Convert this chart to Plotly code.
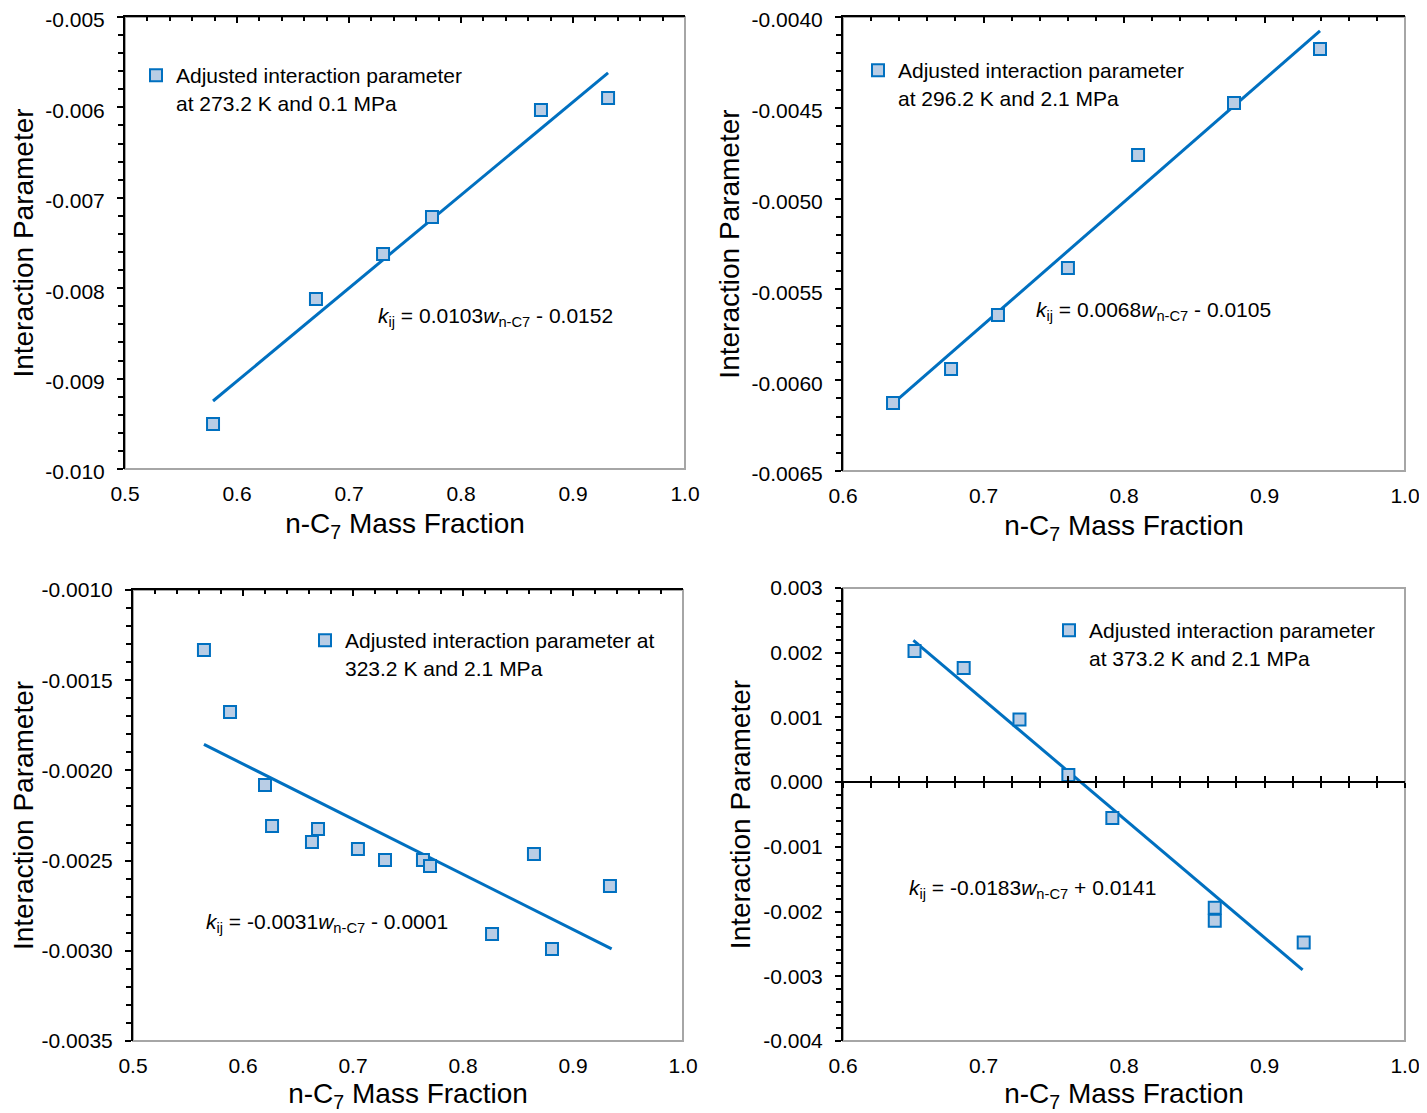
import plotly.graph_objects as go

W, H = 1419, 1105   # page has an 8px body margin; figure fills the rest of the 1427x1113 window
OFF = 8

# ---------------- data ----------------
# Panel 1: 273.2 K, 0.1 MPa
p1_x = [0.5786, 0.6705, 0.7304, 0.7741, 0.8714, 0.9313]
p1_y = [-0.009502, -0.008119, -0.007622, -0.007212, -0.006029, -0.005896]
p1_fit_x = [0.5786, 0.9313]
p1_fit_y = [-0.009248, -0.005619]

# Panel 2: 296.2 K, 2.1 MPa
p2_x = [0.6356, 0.6769, 0.7103, 0.7601, 0.8100, 0.8783, 0.9395]
p2_y = [-0.006126, -0.005938, -0.005641, -0.005382, -0.004760, -0.004474, -0.004176]
p2_fit_x = [0.632, 0.9395]
p2_fit_y = [-0.006153, -0.004077]

# Panel 3: 323.2 K, 2.1 MPa
p3_x = [0.5645, 0.5882, 0.6200, 0.6264, 0.6627, 0.6682, 0.7045, 0.7291,
        0.7636, 0.7700, 0.8264, 0.8645, 0.8809, 0.9336]
p3_y = [-0.001333, -0.001676, -0.002081, -0.002308, -0.002397, -0.002325,
        -0.002436, -0.002497, -0.002497, -0.002530, -0.002907, -0.002463,
        -0.002990, -0.002641]
p3_fit_x = [0.5645, 0.9351]
p3_fit_y = [-0.001856, -0.002989]

# Panel 4: 373.2 K, 2.1 MPa
p4_x = [0.6509, 0.6859, 0.7256, 0.7604, 0.7917, 0.8646, 0.8646, 0.9279]
p4_y = [0.002025, 0.001762, 0.000968, 0.000112, -0.000554, -0.001942, -0.002143, -0.002478]
p4_fit_x = [0.6501, 0.9271]
p4_fit_y = [0.00219, -0.0029]

legend_texts = [
    "Adjusted interaction parameter<br>at 273.2 K and 0.1 MPa",
    "Adjusted interaction parameter<br>at 296.2 K and 2.1 MPa",
    "Adjusted interaction parameter at<br>323.2 K and 2.1 MPa",
    "Adjusted interaction parameter<br>at 373.2 K and 2.1 MPa",
]
equations = [
    "<i>k</i><sub>ij</sub> = 0.0103<i>w</i><sub>n-C7</sub> - 0.0152",
    "<i>k</i><sub>ij</sub> = 0.0068<i>w</i><sub>n-C7</sub> - 0.0105",
    "<i>k</i><sub>ij</sub> = -0.0031<i>w</i><sub>n-C7</sub> - 0.0001",
    "<i>k</i><sub>ij</sub> = -0.0183<i>w</i><sub>n-C7</sub> + 0.0141",
]
eq_pos = [(0.7241, -0.008319), (0.7359, -0.005619), (0.5645, -0.002846), (0.6456, -0.001651)]

x_ticks_a = [0.5, 0.6, 0.7, 0.8, 0.9, 1.0]
x_ticks_b = [0.6, 0.7, 0.8, 0.9, 1.0]
x_labels_a = ["0.5", "0.6", "0.7", "0.8", "0.9", "1.0"]
x_labels_b = ["0.6", "0.7", "0.8", "0.9", "1.0"]

y1_ticks = [-0.005, -0.006, -0.007, -0.008, -0.009, -0.010]
y1_labels = ["-0.005", "-0.006", "-0.007", "-0.008", "-0.009", "-0.010"]
y2_ticks = [-0.0040, -0.0045, -0.0050, -0.0055, -0.0060, -0.0065]
y2_labels = ["-0.0040", "-0.0045", "-0.0050", "-0.0055", "-0.0060", "-0.0065"]
y3_ticks = [-0.0010, -0.0015, -0.0020, -0.0025, -0.0030, -0.0035]
y3_labels = ["-0.0010", "-0.0015", "-0.0020", "-0.0025", "-0.0030", "-0.0035"]
y4_ticks = [0.003, 0.002, 0.001, 0.000, -0.001, -0.002, -0.003, -0.004]
y4_labels = ["0.003", "0.002", "0.001", "0.000", "-0.001", "-0.002", "-0.003", "-0.004"]

x_title = "n-C<sub>7</sub> Mass Fraction"
y_title = "Interaction Parameter"

# ---------------- styling ----------------
FONT = "Liberation Sans, Arial, sans-serif"
BLUE = "#0070C0"
FILL = "#B9CDE5"
GRAY = "#A6A6A6"


def fx(px):
    return (px - OFF) / W


def fy(py):
    return 1 - (py - OFF) / H


panels = [
    dict(xs=p1_x, ys=p1_y, fx_=p1_fit_x, fy_=p1_fit_y, xr=[0.5, 1.0], yr=[-0.010, -0.005],
         xt=x_ticks_a, xl=x_labels_a, yt=y1_ticks, yl=y1_labels, ymin=0.0002,
         dom_x=[fx(125), fx(685)], dom_y=[fy(469), fy(17)], leg=(136, 55), shift=3),
    dict(xs=p2_x, ys=p2_y, fx_=p2_fit_x, fy_=p2_fit_y, xr=[0.6, 1.0], yr=[-0.0065, -0.0040],
         xt=x_ticks_b, xl=x_labels_b, yt=y2_ticks, yl=y2_labels, ymin=0.0001,
         dom_x=[fx(843), fx(1405)], dom_y=[fy(471), fy(17)], leg=(858, 50), shift=3),
    dict(xs=p3_x, ys=p3_y, fx_=p3_fit_x, fy_=p3_fit_y, xr=[0.5, 1.0], yr=[-0.0035, -0.0010],
         xt=x_ticks_a, xl=x_labels_a, yt=y3_ticks, yl=y3_labels, ymin=0.0001,
         dom_x=[fx(133), fx(683)], dom_y=[fy(1041), fy(590)], leg=(305, 620), shift=0),
    dict(xs=p4_x, ys=p4_y, fx_=p4_fit_x, fy_=p4_fit_y, xr=[0.6, 1.0], yr=[-0.004, 0.003],
         xt=x_ticks_b, xl=x_labels_b, yt=y4_ticks, yl=y4_labels, ymin=0.0002,
         dom_x=[fx(843), fx(1405)], dom_y=[fy(1041), fy(588)], leg=(1049, 610), shift=0),
]

fig = go.Figure()
layout = dict(
    width=W, height=H,
    margin=dict(l=0, r=0, t=0, b=0),
    paper_bgcolor="white", plot_bgcolor="white",
    font=dict(family=FONT, color="black", size=21),
    showlegend=True,
    shapes=[], annotations=[],
)

for i, p in enumerate(panels, start=1):
    xa, ya = f"x{i}" if i > 1 else "x", f"y{i}" if i > 1 else "y"
    xkey, ykey = f"xaxis{i}" if i > 1 else "xaxis", f"yaxis{i}" if i > 1 else "yaxis"
    legkey = f"legend{i}" if i > 1 else "legend"

    fig.add_trace(go.Scatter(
        x=p["fx_"], y=p["fy_"], mode="lines", xaxis=xa, yaxis=ya,
        line=dict(color=BLUE, width=3), showlegend=False, hoverinfo="skip"))
    fig.add_trace(go.Scatter(
        x=p["xs"], y=p["ys"], mode="markers", xaxis=xa, yaxis=ya,
        name=legend_texts[i - 1], legend=legkey,
        marker=dict(symbol="square", size=12, color=FILL, line=dict(color=BLUE, width=2))))

    layout[xkey] = dict(
        domain=p["dom_x"], range=p["xr"], anchor=ya,
        tickmode="array", tickvals=p["xt"], ticktext=p["xl"],
        ticks="", showline=False, showgrid=False, zeroline=False,
        tickfont=dict(size=21), ticklabelstandoff=10, ticklabeloverflow="allow",
        title=dict(text=x_title, font=dict(size=28), standoff=9),
        automargin=False, fixedrange=True,
    )
    layout[ykey] = dict(
        domain=p["dom_y"], range=p["yr"], anchor=xa,
        tickmode="array", tickvals=p["yt"], ticktext=p["yl"],
        ticks="outside", ticklen=6, tickwidth=1.5, tickcolor="black",
        minor=dict(dtick=p["ymin"], tick0=p["yr"][0], ticks="outside", ticklen=5,
                   tickwidth=1.5, tickcolor="black"),
        showline=True, linecolor="black", linewidth=2,
        showgrid=False, zeroline=False,
        tickfont=dict(size=21), ticklabelstandoff=8, ticklabeloverflow="allow",
        ticklabelshift=p["shift"],
        title=dict(text=y_title, font=dict(size=28), standoff=4),
        automargin=False, fixedrange=True,
    )

    # gray plot-area border
    layout["shapes"].append(dict(
        type="rect", xref=f"{xa} domain", yref=f"{ya} domain",
        x0=0, x1=1, y0=0, y1=1, line=dict(color=GRAY, width=2), layer="below"))

    # legend
    lx, ly = p["leg"]
    layout[legkey] = dict(
        x=fx(lx), y=fy(ly), xanchor="left", yanchor="top",
        bgcolor="rgba(0,0,0,0)", borderwidth=0, valign="top",
        font=dict(size=21, family=FONT, color="black"), itemsizing="trace",
    )

    # trendline equation
    ex, ey = eq_pos[i - 1]
    layout["annotations"].append(dict(
        text=equations[i - 1], x=ex, y=ey, xref=xa, yref=ya,
        xanchor="left", yanchor="middle", showarrow=False,
        font=dict(size=21, family=FONT, color="black")))

# black axis lines with ticks: top for panels 1-3, at zero (crossing ticks) for panel 4
extra = 5
for i in range(1, 4):
    p = panels[i - 1]
    xa = "x" if i == 1 else f"x{i}"
    ya = "y" if i == 1 else f"y{i}"
    key = f"xaxis{extra}"
    layout[key] = dict(
        overlaying=xa, matches=xa, range=p["xr"], anchor=ya, side="top",
        tick0=p["xr"][0], dtick=0.1, ticks="inside", ticklen=6, tickwidth=1.5, tickcolor="black",
        minor=dict(dtick=0.02, tick0=p["xr"][0], ticks="inside", ticklen=4,
                   tickwidth=1.5, tickcolor="black"),
        showticklabels=False, showline=True, linecolor="black", linewidth=2,
        showgrid=False, zeroline=False, fixedrange=True,
    )
    fig.add_trace(go.Scatter(x=[None], y=[None], xaxis=f"x{extra}", yaxis=ya,
                             showlegend=False, hoverinfo="skip"))
    extra += 1

p = panels[3]
zero_pos = fy(782)
for tk in ["inside", "outside"]:
    key = f"xaxis{extra}"
    layout[key] = dict(
        overlaying="x4", matches="x4", range=p["xr"], anchor="free", position=zero_pos,
        tick0=0.6, dtick=0.1, ticks=tk, ticklen=5, tickwidth=1.5, tickcolor="black",
        minor=dict(dtick=0.02, tick0=0.6, ticks=tk, ticklen=5, tickwidth=1.5, tickcolor="black"),
        showticklabels=False, showline=True, linecolor="black", linewidth=2,
        showgrid=False, zeroline=False, fixedrange=True,
    )
    fig.add_trace(go.Scatter(x=[None], y=[None], xaxis=f"x{extra}", yaxis="y4",
                             showlegend=False, hoverinfo="skip"))
    extra += 1

fig.update_layout(**layout)
fig.write_html("out.html")
